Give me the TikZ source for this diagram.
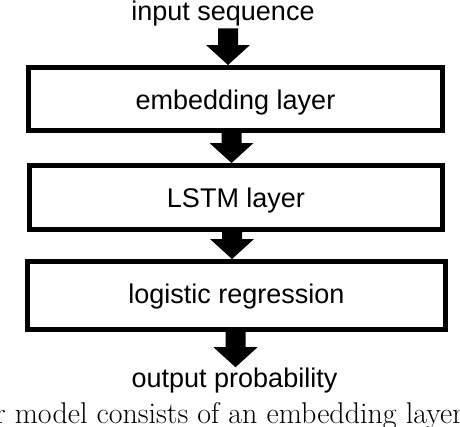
\documentclass[tikz,border=0pt]{standalone}
\usepackage{fontspec}
\newfontfamily\labfont{Liberation Sans}
\newfontfamily\capfont{Latin Modern Roman}
\usetikzlibrary{calc}
\tikzset{
  layer/.style={draw, line width=5pt, fill=white, inner sep=0pt, text depth=5.7pt,
    font=\labfont\fontsize{27}{32}\selectfont},
  lbl/.style={inner sep=0pt, anchor=base, font=\labfont\fontsize{27}{32}\selectfont},
  captxt/.style={inner sep=0pt, anchor=base west, font=\capfont\fontsize{30}{34}\selectfont},
}
\newcommand{\blkarrow}[2]{%
  \fill let \p1=(#1), \p2=(#2) in
    ({\x1-10pt},\y1) -- ({\x1+10pt},\y1) -- ({\x1+10pt},{\y2+20pt})
    -- ({\x1+22pt},{\y2+20pt}) -- (\x1,\y2) -- ({\x1-22pt},{\y2+20pt})
    -- ({\x1-10pt},{\y2+20pt}) -- cycle;}
\begin{document}
\begin{tikzpicture}[x=1pt,y=-1pt]
\useasboundingbox (0,0) rectangle (460,426);
\node[lbl] (in) at (223,20.5) {input sequence};
\node[layer, minimum width=414pt, minimum height=63pt, text height=27.4pt] (b1) at (235.5,99) {embedding layer};
\node[layer, minimum width=413pt, minimum height=64pt, text height=26.3pt] (b2) at (236,197.5) {LSTM layer};
\node[layer, minimum width=418pt, minimum height=68pt, text height=21.3pt] (b3) at (236.5,295.5) {logistic regression};
\node[lbl] (out) at (234.5,387) {output probability};
\blkarrow{[xshift=5pt,yshift=-2pt]in.south}{b1.north}
\blkarrow{[xshift=-4pt]b1.south}{b2.north}
\blkarrow{[xshift=-4pt]b2.south}{b3.north}
\blkarrow{[xshift=-1pt]b3.south}{out.north}
\begin{scope}
\clip (0,0) rectangle (460,426);
\node[captxt] (cap) at (-42,423) {Our model consists of an embedding layer,};
\end{scope}
\end{tikzpicture}
\end{document}
